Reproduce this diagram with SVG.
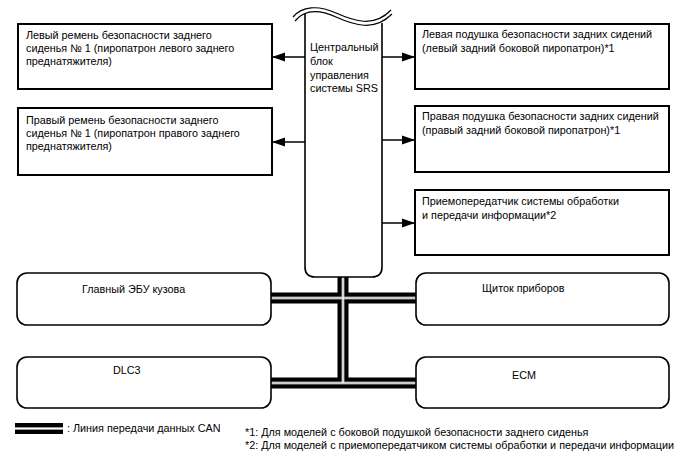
<svg xmlns="http://www.w3.org/2000/svg" width="688" height="463" viewBox="0 0 688 463">
<defs>
<marker id="ah" markerWidth="13" markerHeight="10" refX="13" refY="5" orient="auto" markerUnits="userSpaceOnUse">
<path d="M0,0.5 L13,5 L0,9.5 Z" fill="#000"/>
</marker>
</defs>
<style>
.box{fill:#fff;stroke:#000;stroke-width:2}
.rbox{fill:#fff;stroke:#000;stroke-width:1.6}
.t{font-family:"Liberation Sans",Arial,sans-serif;font-size:10.8px;fill:#000}
.arr{stroke:#000;stroke-width:1.6;fill:none}
.bk{stroke:#000;stroke-width:11;fill:none}
.gr{stroke:#999;stroke-width:3;fill:none}
.wh{stroke:#fff;stroke-width:1.2;fill:none}
</style>
<rect width="688" height="463" fill="#fff"/>
<g id="connectors">
<line class="arr" x1="305" y1="57" x2="272" y2="57" marker-end="url(#ah)"/>
<line class="arr" x1="305" y1="142" x2="272" y2="142" marker-end="url(#ah)"/>
<line class="arr" x1="382" y1="57" x2="415" y2="57" marker-end="url(#ah)"/>
<line class="arr" x1="382" y1="140" x2="415" y2="140" marker-end="url(#ah)"/>
<line class="arr" x1="382" y1="223" x2="415" y2="223" marker-end="url(#ah)"/>
<g id="can-bus">
<path class="bk" d="M343,277 V383 M271,298 H416 M271,383 H416"/>
<path class="gr" d="M343,277 V383 M271,298 H416 M271,383 H416"/>
<path class="wh" d="M343,277 V383 M271,298 H416 M271,383 H416"/>
</g>
</g>
<g id="srs">
<path d="M305,14 V267 Q305,277 315,277 H372 Q382,277 382,267 V23" fill="#fff" stroke="#000" stroke-width="1.6"/>
<path d="M293,17 C302,6 318,5 336,13 C354,21 374,28 391,10" fill="none" stroke="#000" stroke-width="1.2"/>
<path d="M295,21 C304,10 318,9 336,17 C354,25 374,32 392,14" fill="none" stroke="#000" stroke-width="1.2"/>
<text class="t" x="310" y="51">Центральный</text>
<text class="t" x="310" y="65">блок</text>
<text class="t" x="310" y="79">управления</text>
<text class="t" x="310" y="92">системы SRS</text>
</g>
<g id="left-belt">
<rect class="box" x="18" y="24" width="254" height="65"/>
<text class="t" x="26" y="39">Левый ремень безопасности заднего</text>
<text class="t" x="26" y="52">сиденья № 1 (пиропатрон левого заднего</text>
<text class="t" x="26" y="65">преднатяжителя)</text>
</g>
<g id="right-belt">
<rect class="box" x="18" y="108" width="254" height="67"/>
<text class="t" x="26" y="124">Правый ремень безопасности заднего</text>
<text class="t" x="26" y="137">сиденья № 1 (пиропатрон правого заднего</text>
<text class="t" x="26" y="150">преднатяжителя)</text>
</g>
<g id="left-airbag">
<rect class="box" x="415" y="24" width="254" height="65"/>
<text class="t" x="422" y="38">Левая подушка безопасности задних сидений</text>
<text class="t" x="422" y="52">(левый задний боковой пиропатрон)*1</text>
</g>
<g id="right-airbag">
<rect class="box" x="415" y="106" width="254" height="66"/>
<text class="t" x="422" y="120">Правая подушка безопасности задних сидений</text>
<text class="t" x="422" y="134">(правый задний боковой пиропатрон)*1</text>
</g>
<g id="transceiver">
<rect class="box" x="415" y="190" width="254" height="65"/>
<text class="t" x="422" y="205">Приемопередатчик системы обработки</text>
<text class="t" x="422" y="219">и передачи информации*2</text>
</g>
<g id="body-ecu">
<rect class="rbox" x="17" y="273" width="254" height="52" rx="10"/>
<text class="t" x="82" y="293">Главный ЭБУ кузова</text>
</g>
<g id="dlc3">
<rect class="rbox" x="17" y="357" width="254" height="51" rx="10"/>
<text class="t" x="113" y="374">DLC3</text>
</g>
<g id="meter">
<rect class="rbox" x="416" y="273" width="253" height="52" rx="10"/>
<text class="t" x="482" y="292">Щиток приборов</text>
</g>
<g id="ecm">
<rect class="rbox" x="416" y="357" width="253" height="51" rx="10"/>
<text class="t" x="512" y="379">ECM</text>
</g>
<g id="legend">
<line class="bk" x1="15" y1="428.5" x2="63" y2="428.5"/>
<line class="gr" x1="15" y1="428.5" x2="63" y2="428.5"/>
<line class="wh" x1="15" y1="428.5" x2="63" y2="428.5"/>
<text class="t" x="67" y="432">: Линия передачи данных CAN</text>
<text class="t" x="245" y="436">*1: Для моделей с боковой подушкой безопасности заднего сиденья</text>
<text class="t" x="245" y="449">*2: Для моделей с приемопередатчиком системы обработки и передачи информации</text>
</g>
</svg>
